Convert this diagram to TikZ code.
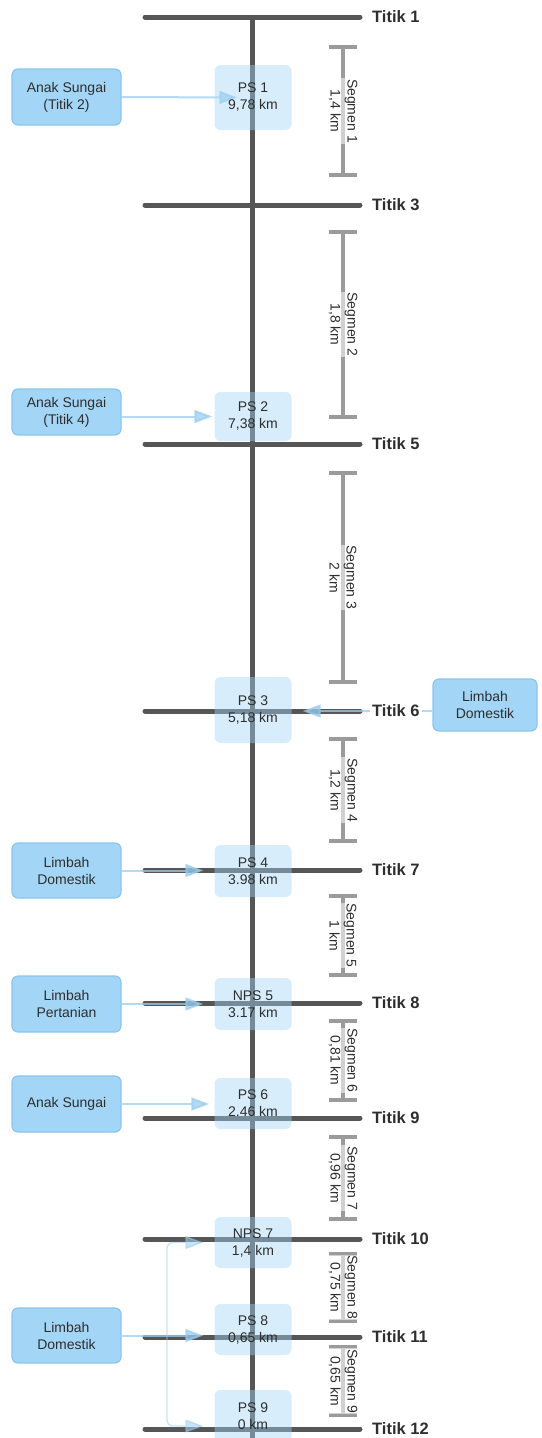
\documentclass[tikz,border=0pt]{standalone}
\usepackage{fontspec}
\setmainfont{Liberation Sans}
\usepackage{xcolor}
\usetikzlibrary{
  arrows.meta,
  backgrounds
}
\definecolor{rvBar}{HTML}{565656}
\definecolor{rvSeg}{HTML}{9B9B9B}
\definecolor{rvSrc}{HTML}{A3D5F6}
\definecolor{rvSrcLine}{HTML}{8CC5EC}
\definecolor{rvFlow}{HTML}{9ACDEE}
\definecolor{rvText}{HTML}{2E2E2E}
\tikzset{
  rvfont/.style={font=\fontsize{14}{17}\selectfont, text=rvText},
  srcbox/.style={
    rvfont, draw=rvSrcLine, line width=1.2pt, fill=rvSrc, rounded corners=6pt,
    minimum width=109pt, minimum height=55pt, align=center, inner sep=2pt
  },
  psbox/.style={
    rvfont, fill=rvSrc, fill opacity=0.42, text opacity=1, rounded corners=6pt,
    minimum width=77pt, minimum height=51pt, align=center, inner sep=1pt
  },
  titik/.style={font=\fontsize{16.5}{19}\selectfont\bfseries, text=rvText, anchor=west, fill=white, inner sep=2pt},
  riverbar/.style={line width=5pt, rvBar, line cap=round},
  segbar/.style={line width=4pt, rvSeg, {Bar[width=28pt]}-{Bar[width=28pt]}},
  seglabel/.style={
    midway, rvfont, rotate=-90, align=center, fill=white, fill opacity=0.55,
    text opacity=1, inner sep=1pt
  },
  inflow/.style={line width=2pt, rvFlow, opacity=0.75, rounded corners=6pt, -{Triangle[length=18pt, width=13pt]}},
  branch/.style={inflow, line width=1.4pt, opacity=0.55}
}

\begin{document}
\begin{tikzpicture}[x=1pt, y=-1pt]
  \useasboundingbox (0,0) rectangle (541,1438);

  % titik pengamatan
  \node[titik] (t1) at (370,17) {Titik 1};
  \node[titik] (t3) at (370,205) {Titik 3};
  \node[titik] (t5) at (370,444) {Titik 5};
  \node[titik] (t6) at (370,711) {Titik 6};
  \node[titik] (t7) at (370,870) {Titik 7};
  \node[titik] (t8) at (370,1003) {Titik 8};
  \node[titik] (t9) at (370,1118) {Titik 9};
  \node[titik] (t10) at (370,1239) {Titik 10};
  \node[titik] (t11) at (370,1337) {Titik 11};
  \node[titik] (t12) at (370,1429) {Titik 12};

  % sumber pencemar di sungai
  \node[psbox, minimum height=65pt] (ps1) at (253,97.5) {PS 1\\9,78 km};
  \node[psbox, minimum height=49pt] (ps2) at (253,416.5) {PS 2\\7,38 km};
  \node[psbox, minimum height=66pt] (ps3) at (253,710) {PS 3\\5,18 km};
  \node[psbox, minimum height=52pt] (ps4) at (253,871) {PS 4\\3.98 km};
  \node[psbox, minimum height=52pt] (nps5) at (253,1004) {NPS 5\\3.17 km};
  \node[psbox] (ps6) at (253,1103.5) {PS 6\\2.46 km};
  \node[psbox] (nps7) at (253,1242.5) {NPS 7\\1,4 km};
  \node[psbox] (ps8) at (253,1329.5) {PS 8\\0,65 km};
  \node[psbox, minimum height=52pt] (ps9) at (253,1416) {PS 9\\0 km};

  % masukan
  \node[srcbox, minimum height=56pt] (as2) at (66.5,97) {Anak Sungai\\(Titik 2)};
  \node[srcbox, minimum height=46pt] (as4) at (66.5,412) {Anak Sungai\\(Titik 4)};
  \node[srcbox, minimum width=104pt, minimum height=52pt] (ld3) at (485,705) {Limbah\\Domestik};
  \node[srcbox] (ld4) at (66.5,870.5) {Limbah\\Domestik};
  \node[srcbox, minimum height=56pt] (lp5) at (66.5,1004) {Limbah\\Pertanian};
  \node[srcbox, minimum height=56pt] (as6) at (66.5,1104) {Anak Sungai};
  \node[srcbox] (ld8) at (66.5,1335.5) {Limbah\\Domestik};

  \coordinate (hulu) at (252,17);
  \coordinate (hilir) at (252,1440);
  \coordinate (cabang) at (167,1336);

  % segmen
  \draw[segbar] (343,45) -- (343,177) node[seglabel] (sg1) {Segmen 1\\1,4 km};
  \draw[segbar] (343,230) -- (343,419) node[seglabel] (sg2) {Segmen 2\\1,8 km};
  \draw[segbar] (343,471) -- (343,684) node[seglabel] (sg3) {Segmen 3\\2 km};
  \draw[segbar] (343,737) -- (343,843) node[seglabel] (sg4) {Segmen 4\\1,2 km};
  \draw[segbar] (343,894) -- (343,977) node[seglabel] (sg5) {Segmen 5\\1 km};
  \draw[segbar] (343,1019) -- (343,1102) node[seglabel] (sg6) {Segmen 6\\0,81 km};
  \draw[segbar] (343,1135) -- (343,1221) node[seglabel] (sg7) {Segmen 7\\0,96 km};
  \draw[segbar] (343,1252) -- (343,1323) node[seglabel] (sg8) {Segmen 8\\0,75 km};
  \draw[segbar] (343,1345) -- (343,1417) node[seglabel] (sg9) {Segmen 9\\0,65 km};

  \begin{scope}[on background layer]
    \draw[riverbar] (145,17) -- ([xshift=-10pt]t1.west);
    \draw[riverbar] (145,205) -- ([xshift=-10pt]t3.west);
    \draw[riverbar] (145,444) -- ([xshift=-10pt]t5.west);
    \draw[riverbar] (145,711) -- ([xshift=-10pt]t6.west);
    \draw[riverbar] (145,870) -- ([xshift=-10pt]t7.west);
    \draw[riverbar] (145,1003) -- ([xshift=-10pt]t8.west);
    \draw[riverbar] (145,1118) -- ([xshift=-10pt]t9.west);
    \draw[riverbar] (145,1239) -- ([xshift=-10pt]t10.west);
    \draw[riverbar] (145,1337) -- ([xshift=-10pt]t11.west);
    \draw[riverbar] (145,1429) -- ([xshift=-10pt]t12.west);
    \draw[riverbar, line cap=butt] (hulu) -- (hilir);

    \draw[inflow] (as2.east) -- ([xshift=23pt]ps1.west);
    \draw[inflow] (as4.east |- ps2.west) -- ([xshift=-2pt]ps2.west);
    \draw[inflow] (ld3.west |- t6.west) -- ([xshift=11pt]ps3.east |- t6.west);
    \draw[inflow] (ld4.east) -- ([xshift=-11pt]ps4.west |- ld4.east);
    \draw[inflow] (lp5.east) -- ([xshift=-11pt]nps5.west);
    \draw[inflow] (as6.east) -- ([xshift=-5pt]ps6.west |- as6.east);
    \draw[inflow] (ld8.east) -- ([xshift=-11pt]ps8.west |- ld8.east);
    \draw[branch] (cabang) |- ([xshift=-11pt]nps7.west);
    \draw[branch] (cabang) |- ([xshift=-11pt,yshift=-10pt]ps9.west);
  \end{scope}
\end{tikzpicture}
\end{document}
